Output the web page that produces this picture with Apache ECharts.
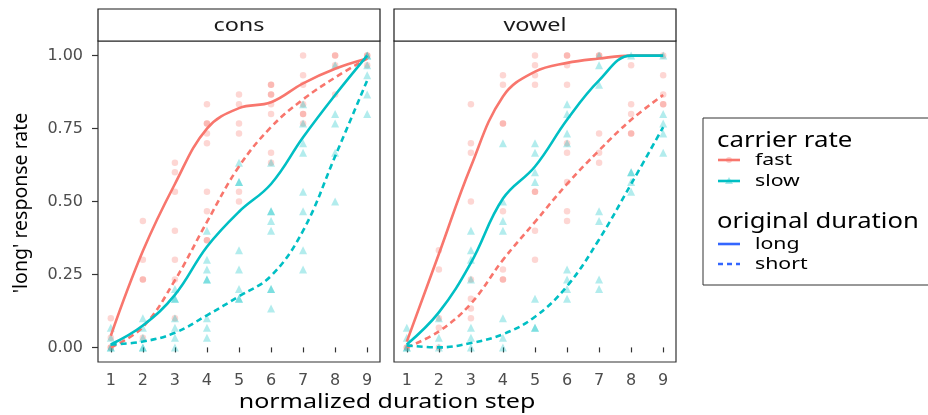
<!DOCTYPE html>
<html>
<head>
<meta charset="utf-8">
<script src="https://cdn.jsdelivr.net/npm/echarts@6/dist/echarts.min.js"></script>
<style>
  html, body { margin: 0; padding: 0; background: #fff; }
  #main { width: 928px; height: 415px; }
</style>
</head>
<body>
<div id="main"></div>
<script>
// duration steps 1..9
var steps = [1, 2, 3, 4, 5, 6, 7, 8, 9];
var panels = ['cons', 'vowel'];
var yTicks = [0, 0.25, 0.5, 0.75, 1];

// raw points (one list per step) - fast = circles, slow = triangles
var consFastPts = [
  [0.1, 0.033, 0, 0],
  [0.433, 0.3, 0.233, 0.233, 0.033],
  [0.633, 0.6, 0.533, 0.4, 0.3, 0.233, 0.1],
  [0.833, 0.767, 0.767, 0.733, 0.7, 0.533, 0.467, 0.367, 0.367],
  [0.867, 0.833, 0.767, 0.733, 0.533, 0.5],
  [0.9, 0.9, 0.867, 0.867, 0.833, 0.8, 0.667, 0.633],
  [1, 0.933, 0.9, 0.833, 0.8, 0.8, 0.767],
  [1, 1, 0.967, 0.867],
  [1, 1, 0.967]
];
var consSlowPts = [
  [0.067, 0.033, 0, 0],
  [0.1, 0.067, 0.033, 0, 0],
  [0.2, 0.167, 0.167, 0.1, 0.067, 0.033, 0],
  [0.4, 0.3, 0.267, 0.233, 0.233, 0.1, 0.067, 0.033],
  [0.633, 0.567, 0.567, 0.333, 0.267, 0.2, 0.167, 0.167],
  [0.633, 0.467, 0.467, 0.433, 0.4, 0.2, 0.2, 0.133],
  [0.833, 0.767, 0.7, 0.667, 0.533, 0.467, 0.333, 0.267],
  [0.967, 0.8, 0.767, 0.667, 0.5],
  [1, 1, 0.967, 0.933, 0.867, 0.8]
];
var vowelFastPts = [
  [0, 0],
  [0.333, 0.267, 0.1, 0.067, 0],
  [0.833, 0.7, 0.667, 0.5, 0.233, 0.167, 0.133, 0.1],
  [0.933, 0.9, 0.767, 0.767, 0.467, 0.267, 0.233, 0.233],
  [1, 0.967, 0.933, 0.9, 0.533, 0.533, 0.4, 0.3],
  [1, 1, 0.967, 0.9, 0.7, 0.667, 0.567, 0.467, 0.433],
  [1, 1, 0.733, 0.667, 0.633],
  [0.967, 0.833, 0.8, 0.733, 0.733],
  [1, 0.933, 0.867, 0.833, 0.833]
];
var vowelSlowPts = [
  [0.067, 0.033, 0, 0],
  [0.1, 0.033, 0],
  [0.4, 0.333, 0.3, 0.233, 0.067, 0.033, 0],
  [0.7, 0.5, 0.433, 0.4, 0.1, 0.033, 0],
  [0.7, 0.667, 0.6, 0.567, 0.167, 0.067, 0.067],
  [0.833, 0.8, 0.733, 0.7, 0.267, 0.233, 0.2, 0.167],
  [1, 0.967, 0.9, 0.467, 0.433, 0.233, 0.2],
  [1, 0.6, 0.6, 0.567, 0.533],
  [1, 0.8, 0.767, 0.733, 0.667]
];

// smoothed fits, read at each step
var consFastLong   = [0.04, 0.33, 0.56, 0.75, 0.82, 0.84, 0.905, 0.955, 0.99];
var consFastShort  = [0.0, 0.07, 0.23, 0.43, 0.62, 0.755, 0.85, 0.925, 0.99];
var consSlowLong   = [0.01, 0.075, 0.18, 0.345, 0.465, 0.56, 0.72, 0.865, 1.0];
var consSlowShort  = [0.01, 0.02, 0.05, 0.11, 0.175, 0.245, 0.4, 0.655, 0.915];
var vowelFastLong  = [0.02, 0.32, 0.62, 0.86, 0.945, 0.975, 0.99, 1.0, 1.0];
var vowelFastShort = [0.0, 0.055, 0.15, 0.3, 0.43, 0.56, 0.675, 0.78, 0.865];
var vowelSlowLong  = [0.01, 0.12, 0.29, 0.51, 0.62, 0.78, 0.915, 1.0, 1.0];
var vowelSlowShort = [0.007, 0.0, 0.015, 0.045, 0.105, 0.21, 0.37, 0.56, 0.755];

var FAST = '#F8766D', SLOW = '#00BFC4', BLUE = '#3366FF';
var FONT = 'Noto Sans';
var TICKFONT = 'DejaVu Sans';

function flatPts(lists) {
  var out = [];
  lists.forEach(function (vals, i) {
    vals.forEach(function (v) { out.push([steps[i], v]); });
  });
  return out;
}
function linePts(vals) {
  return vals.map(function (v, i) { return [steps[i], v]; });
}

function scatter(idx, lists, color, sym, size) {
  return {
    type: 'scatter', xAxisIndex: idx, yAxisIndex: idx,
    data: flatPts(lists), symbol: sym, symbolSize: size,
    itemStyle: { color: color, opacity: 0.3 }, silent: true, z: 2
  };
}
function fit(idx, vals, color, dashed) {
  return {
    type: 'line', xAxisIndex: idx, yAxisIndex: idx,
    data: linePts(vals), smooth: 0.4,
    showSymbol: false, symbol: 'none', silent: true, z: 5,
    lineStyle: { color: color, width: 2.6, type: dashed ? [6, 4] : 'solid' }
  };
}

var gridLeft = [98, 394];

var xAxes = gridLeft.map(function (l, i) {
  return {
    type: 'value', gridIndex: i, min: 0.6, max: 9.4,
    splitLine: { show: false },
    axisLine: { show: false },
    axisTick: { show: true, length: 5, customValues: steps, lineStyle: { color: '#333', width: 1.2 } },
    axisLabel: { customValues: steps, color: '#4D4D4D', fontSize: 16, fontFamily: TICKFONT, margin: 11 }
  };
});
var yAxes = gridLeft.map(function (l, i) {
  return {
    type: 'value', gridIndex: i, min: -0.05, max: 1.05,
    splitLine: { show: false },
    axisLine: { show: false },
    axisTick: { show: i === 0, length: 6, customValues: yTicks, lineStyle: { color: '#333', width: 1.2 } },
    axisLabel: {
      show: i === 0, customValues: yTicks, color: '#4D4D4D', fontSize: 16, fontFamily: TICKFONT, margin: 15,
      formatter: function (v) { return v.toFixed(2); }
    }
  };
});

var chart = echarts.init(document.getElementById('main'), null, { renderer: 'canvas' });

function txt(s, x, y, size, sx, opts) {
  var o = {
    type: 'text', x: x, y: y, scaleX: sx || 1,
    style: { text: s, font: size + 'px "' + FONT + '"', fill: '#000', align: 'left', verticalAlign: 'middle' }
  };
  if (opts) { for (var k in opts) { o.style[k] = opts[k]; } }
  return o;
}

var graphics = [];
// facet strips
panels.forEach(function (name, i) {
  graphics.push({
    type: 'rect', x: gridLeft[i], y: 9,
    shape: { width: 282, height: 32 },
    style: { fill: '#fff', stroke: '#1a1a1a', lineWidth: 1.2 }
  });
  graphics.push(txt(name, gridLeft[i] + 141, 26, 18, 1.3, { align: 'center', fill: '#1a1a1a' }));
});
// axis titles
graphics.push(txt('normalized duration step', 387, 402, 20, 1.25, { align: 'center' }));
var yTitle = txt("'long' response rate", 21, 203, 19.5, 1, { align: 'center' });
yTitle.rotation = Math.PI / 2;
graphics.push(yTitle);

// legend box
graphics.push({
  type: 'rect', x: 703, y: 118,
  shape: { width: 240, height: 167 },
  style: { fill: '#fff', stroke: '#333', lineWidth: 1 }
});
function legItem(s, y, color, dashed, sym) {
  graphics.push({ type: 'line', shape: { x1: 718, y1: y, x2: 740, y2: y },
    style: { stroke: color, lineWidth: 2.6, lineDash: dashed ? [5, 4] : null } });
  if (sym === 'circle') {
    graphics.push({ type: 'circle', shape: { cx: 729, cy: y, r: 3 }, style: { fill: color, opacity: 0.35 } });
  } else if (sym === 'triangle') {
    graphics.push({ type: 'polygon', shape: { points: [[729, y - 4], [733, y + 3], [725, y + 3]] }, style: { fill: color, opacity: 0.35 } });
  }
  graphics.push(txt(s, 755, y, 17, 1.25));
}
graphics.push(txt('carrier rate', 717, 141, 21, 1.23));
legItem('fast', 160, FAST, false, 'circle');
legItem('slow', 181, SLOW, false, 'triangle');
graphics.push(txt('original duration', 717, 222, 21, 1.22));
legItem('long', 244, BLUE, false, null);
legItem('short', 264, BLUE, true, null);

var option = {
  animation: false,
  backgroundColor: '#fff',
  textStyle: { fontFamily: FONT },
  grid: gridLeft.map(function (l) {
    return { left: l, top: 41, width: 282, height: 321, show: true, borderColor: '#333', borderWidth: 1.2, backgroundColor: '#fff' };
  }),
  xAxis: xAxes,
  yAxis: yAxes,
  series: [
    scatter(0, consFastPts, FAST, 'circle', 6.5),
    scatter(0, consSlowPts, SLOW, 'triangle', 8),
    scatter(1, vowelFastPts, FAST, 'circle', 6.5),
    scatter(1, vowelSlowPts, SLOW, 'triangle', 8),
    fit(0, consFastLong, FAST, false),
    fit(0, consFastShort, FAST, true),
    fit(0, consSlowLong, SLOW, false),
    fit(0, consSlowShort, SLOW, true),
    fit(1, vowelFastLong, FAST, false),
    fit(1, vowelFastShort, FAST, true),
    fit(1, vowelSlowLong, SLOW, false),
    fit(1, vowelSlowShort, SLOW, true)
  ],
  graphic: graphics
};
chart.setOption(option);
</script>
</body>
</html>
